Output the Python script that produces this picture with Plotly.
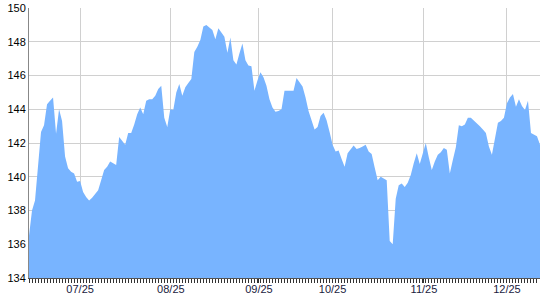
import plotly.graph_objects as go

# daily closing values (one per trading index)
values = [
    136.5, 138.0, 138.6, 140.7, 142.65, 143.05, 144.3, 144.5, 144.7, 142.55,
    144.0, 143.3, 141.2, 140.5, 140.3, 140.2, 139.7, 139.75, 139.1, 138.8,
    138.6, 138.75, 139.0, 139.2, 139.8, 140.4, 140.6, 140.9, 140.8, 140.7,
    142.35, 142.1, 141.9, 142.6, 142.6, 143.1, 143.7, 144.1, 143.7, 144.5,
    144.6, 144.6, 144.8, 145.2, 145.4, 143.5, 142.95, 144.0, 143.95, 145.0,
    145.5, 144.8, 145.3, 145.55, 145.8, 147.4, 147.7, 148.1, 148.9, 149.0,
    148.85, 148.7, 148.15, 148.8, 148.55, 148.3, 147.35, 148.25, 146.9, 146.65,
    147.3, 147.9, 146.9, 146.6, 146.55, 145.1, 145.7, 146.2, 145.9, 145.4,
    144.6, 144.1, 143.85, 143.9, 144.0, 145.1, 145.1, 145.1, 145.1, 145.85,
    145.6, 145.35, 144.7, 143.9, 143.35, 142.8, 142.95, 143.6, 143.8, 143.35,
    142.65, 141.9, 141.5, 141.55, 141.05, 140.6, 141.4, 141.6, 141.85, 141.65,
    141.7, 141.8, 141.9, 141.5, 141.35, 140.55, 139.8, 140.0, 139.9, 139.8,
    136.2, 136.0, 138.7, 139.5, 139.6, 139.4, 139.65, 140.1, 140.8, 141.4,
    140.75, 141.4, 142.0, 141.15, 140.4, 140.9, 141.3, 141.45, 141.7, 141.6,
    140.2, 141.0, 141.75, 143.05, 143.0, 143.1, 143.5, 143.5, 143.35, 143.2,
    143.0, 142.8, 142.6, 141.8, 141.3, 142.25, 143.2, 143.3, 143.5, 144.35,
    144.7, 144.9, 144.15, 144.6, 144.2, 143.95, 144.5, 142.6, 142.5, 142.4,
    141.9,
]
index = list(range(len(values)))

tick_labels = ["07/25", "08/25", "09/25", "10/25", "11/25", "12/25"]
tick_index = [17, 47.2, 76.5, 101, 131.4, 159]

fig = go.Figure()
fig.add_trace(go.Scatter(
    x=index, y=values, mode="lines", fill="tozeroy",
    line=dict(color="#78b4ff", width=0),
    fillcolor="#78b4ff", hoverinfo="skip",
))

fig.update_layout(
    width=540, height=300,
    margin=dict(l=29, r=0, t=8, b=22),
    paper_bgcolor="white", plot_bgcolor="white",
    showlegend=False,
    font=dict(family="Liberation Sans, Arial, sans-serif", size=11, color="#000000"),
)
fig.update_xaxes(
    range=[0, len(values) - 1],
    tickmode="array", tickvals=tick_index, ticktext=tick_labels,
    ticks="outside", ticklen=4, tickcolor="#333333", tickwidth=1,
    ticklabelstandoff=-3,
    showgrid=True, gridcolor="#d0d0d0", gridwidth=1,
    showline=True, linecolor="#555555", linewidth=1,
    tickfont=dict(color="#1a1a40", size=11),
    minor=dict(tickmode="linear", tick0=0, dtick=1, ticks="outside", ticklen=4,
               tickcolor="#333333", tickwidth=1, showgrid=False),
    zeroline=False,
)
fig.update_yaxes(
    range=[134, 150], dtick=2, tick0=134,
    showgrid=True, gridcolor="#d0d0d0", gridwidth=1,
    showline=True, linecolor="#888888", linewidth=1,
    ticks="", tickfont=dict(color="#000000", size=11),
    zeroline=False,
)

fig.write_html("out.html")
